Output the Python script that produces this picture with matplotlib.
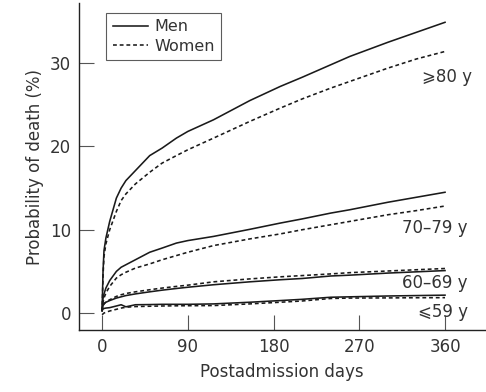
import matplotlib
matplotlib.use('Agg')
import matplotlib.pyplot as plt

# days after admission (shared grid for all curves)
days = [0, 1, 2, 4, 8, 15, 20, 25, 35, 50, 63, 78, 90, 117, 155, 187, 210, 240, 260, 300, 330, 360]

men_80 = [0.3, 5.0, 7.5, 9.0, 11.0, 13.8, 15.0, 15.9, 17.1, 18.9, 19.8, 21.0, 21.8, 23.2, 25.5, 27.2, 28.3, 29.8, 30.8, 32.5, 33.7, 34.9]
women_80 = [0.2, 4.5, 6.8, 8.3, 10.0, 12.2, 13.5, 14.3, 15.5, 16.9, 18.0, 18.9, 19.6, 21.0, 23.0, 24.6, 25.7, 27.0, 27.8, 29.4, 30.5, 31.4]
men_70 = [0.5, 1.8, 2.3, 3.0, 3.9, 5.0, 5.5, 5.8, 6.4, 7.3, 7.8, 8.4, 8.7, 9.2, 10.05, 10.8, 11.3, 12.0, 12.4, 13.3, 13.9, 14.5]
women_70 = [0.3, 1.3, 1.8, 2.4, 3.2, 4.2, 4.6, 4.9, 5.4, 5.9, 6.4, 6.9, 7.3, 8.1, 8.9, 9.5, 10.0, 10.6, 11.0, 11.8, 12.3, 12.85]
men_60 = [0.3, 0.9, 1.1, 1.3, 1.5, 1.8, 1.95, 2.1, 2.3, 2.55, 2.75, 2.95, 3.1, 3.4, 3.75, 4.0, 4.15, 4.45, 4.55, 4.8, 4.95, 5.1]
women_60 = [0.2, 0.9, 1.1, 1.35, 1.6, 2.0, 2.2, 2.35, 2.55, 2.8, 3.0, 3.2, 3.35, 3.75, 4.1, 4.35, 4.5, 4.7, 4.85, 5.05, 5.2, 5.35]
men_59 = [0.3, 0.5, 0.55, 0.6, 0.65, 0.85, 1.0, 0.75, 1.0, 1.02, 1.05, 1.05, 1.05, 1.1, 1.3, 1.5, 1.65, 1.9, 1.95, 2.05, 2.1, 2.15]
women_59 = [-0.2, -0.1, 0.0, 0.1, 0.25, 0.45, 0.6, 0.7, 0.78, 0.82, 0.85, 0.87, 0.88, 0.9, 1.1, 1.3, 1.45, 1.75, 1.8, 1.82, 1.84, 1.85]

group_labels = ['\u2a7e80 y', '70\u201379 y', '60\u201369 y', '\u2a7d59 y']
label_pos = [(388, 28.3), (384, 10.2), (384, 3.6), (384, 0.1)]

xticks = [0, 90, 180, 270, 360]
yticks = [0, 10, 20, 30]

plt.rcParams['font.family'] = ['DejaVu Sans']
txt = '#333333'

fig = plt.figure(figsize=(4.86, 3.92), dpi=100)
ax = fig.add_axes([0.163, 0.158, 0.835, 0.834])

dotted = (0, (2.4, 1.8))
pairs = [(men_80, women_80), (men_70, women_70), (men_60, women_60), (men_59, women_59)]
for i, (m, w) in enumerate(pairs):
    ax.plot(days, m, color='#1a1a1a', lw=1.15, label='Men' if i == 0 else None)
    ax.plot(days, w, color='#1a1a1a', lw=1.15, linestyle=dotted, label='Women' if i == 0 else None)

for lab, (x, y) in zip(group_labels, label_pos):
    ax.text(x, y, lab, ha='right', va='center', fontsize=12, color=txt)

ax.set_xlim(-24, 402)
ax.set_ylim(-2.04, 37.2)
ax.set_xticks(xticks)
ax.set_yticks(yticks)
ax.tick_params(direction='in', length=11, width=0.8, color='#555555',
               labelsize=12, labelcolor=txt, pad=6)
ax.spines['top'].set_visible(False)
ax.spines['right'].set_visible(False)
for s in ['left', 'bottom']:
    ax.spines[s].set_color('#222222')
    ax.spines[s].set_linewidth(1.0)

ax.set_xlabel('Postadmission days', fontsize=12, color=txt, labelpad=5)
ax.set_ylabel('Probability of death (%)', fontsize=12, color=txt, labelpad=4)

leg = ax.legend(loc='upper left', bbox_to_anchor=(0.055, 0.985), fontsize=11.5,
                frameon=True, fancybox=False, handlelength=2.2,
                borderpad=0.4, labelspacing=0.3, handletextpad=0.4,
                borderaxespad=0.3)
leg.get_frame().set_edgecolor('#333333')
leg.get_frame().set_linewidth(0.8)
for t in leg.get_texts():
    t.set_color(txt)

fig.savefig('out.png', dpi=100)
